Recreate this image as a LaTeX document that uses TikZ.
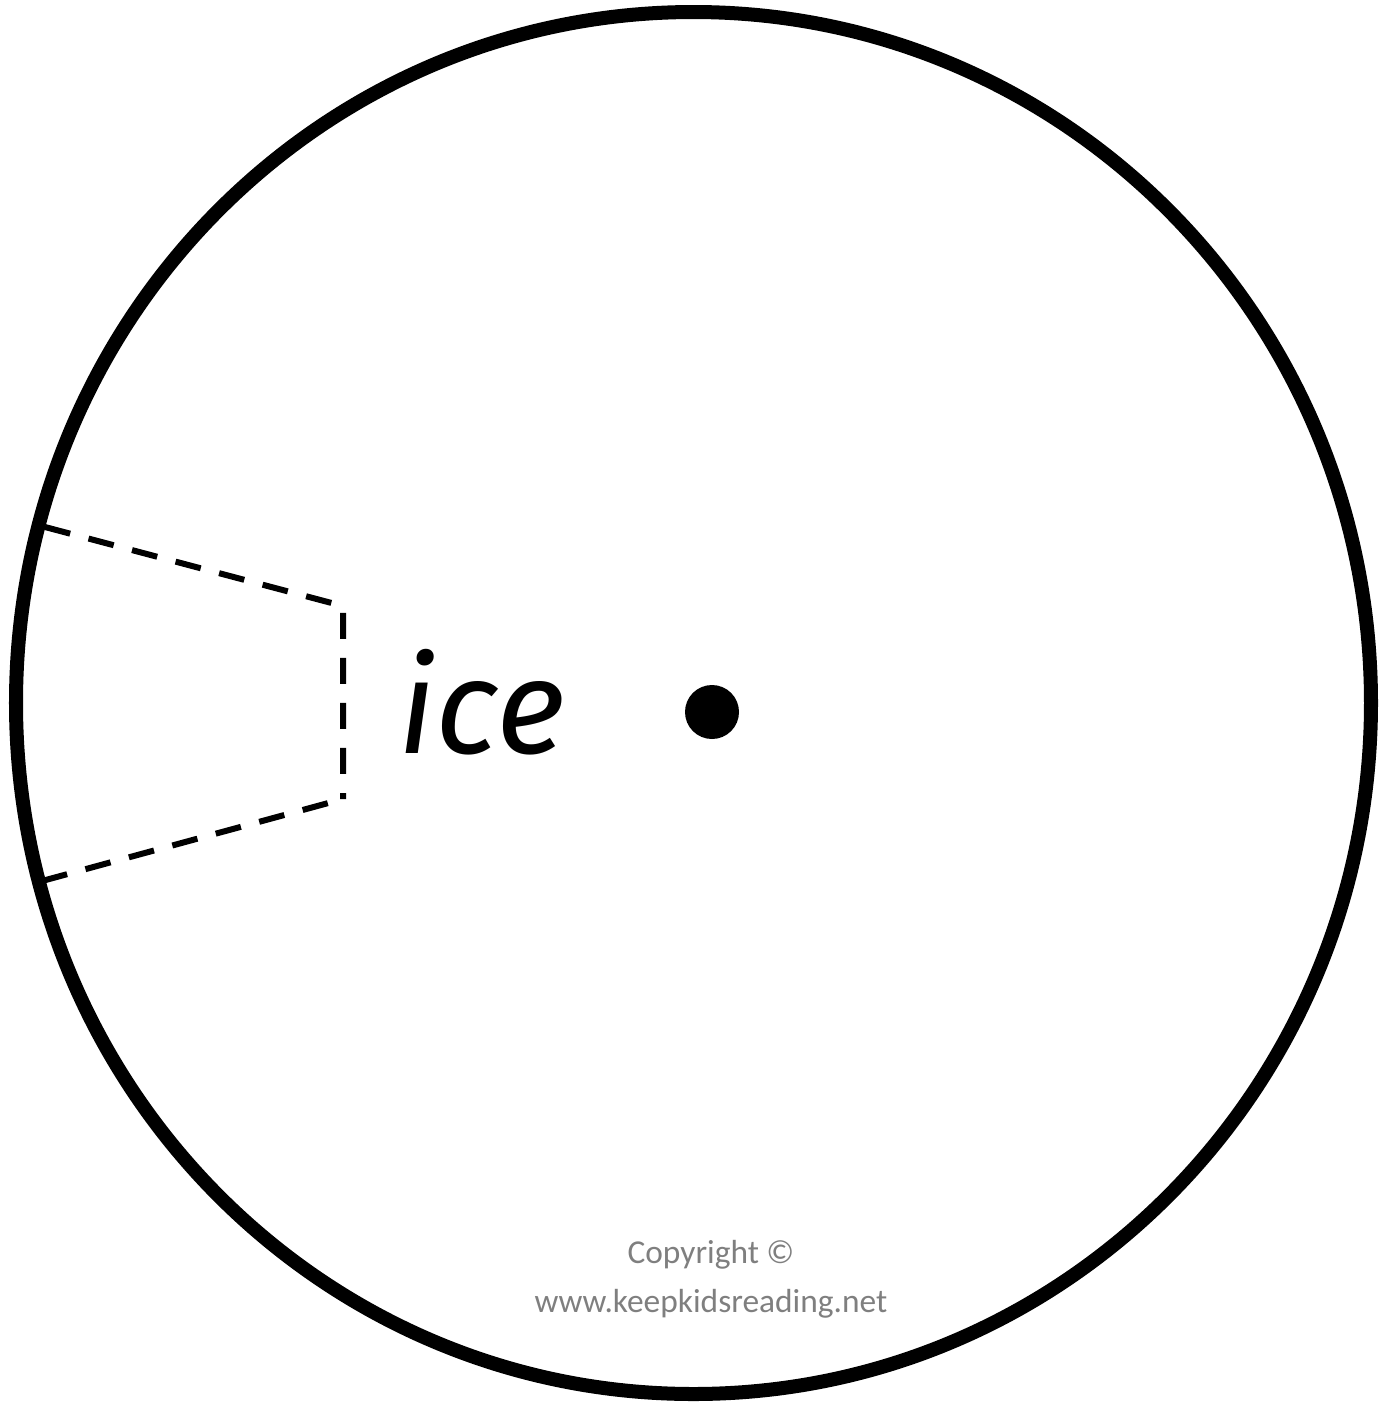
\documentclass[tikz,border=0pt]{standalone}
\usepackage{fontspec}
\usepackage{xcolor}
\setmainfont{Carlito}
\newfontfamily\wordfont{Fira Sans}
\usetikzlibrary{positioning}
\definecolor{KKGray}{RGB}{127,127,127}

\begin{document}
\begin{tikzpicture}[x=0.01cm, y=-0.01cm,
    rim/.style={draw=black, line width=0.14cm},
    window/.style={draw=black, line width=0.06cm, dash pattern=on 0.26cm off 0.19cm},
    word/.style={font=\wordfont\itshape\fontsize{38}{46}\selectfont, inner sep=0pt},
    note/.style={font=\fontsize{9.5}{12}\selectfont, text=KKGray, align=center, inner sep=0pt}
  ]
  \useasboundingbox (0,0) rectangle (1399,1402);

  % wheel
  \draw[rim] (693.5,703) ellipse [x radius=677.5, y radius=691];
  \fill (712,712) circle [radius=27];

  % cut-out window
  \coordinate (wt) at (45,527);
  \coordinate (ct) at (343,606);
  \coordinate (cb) at (343,799);
  \coordinate (wb) at (42,881);
  \draw[window] (wt) -- (ct) -- (cb);
  \draw[window] (wb) -- (cb);

  % word and footer
  \node[word, anchor=base west] (ice) at (398,753) {ice};
  \node[note, anchor=base] (copy) at (711,1263) {Copyright ©};
  \node[note, anchor=base] (site) at (711,1312) {www.keepkidsreading.net};
\end{tikzpicture}
\end{document}
